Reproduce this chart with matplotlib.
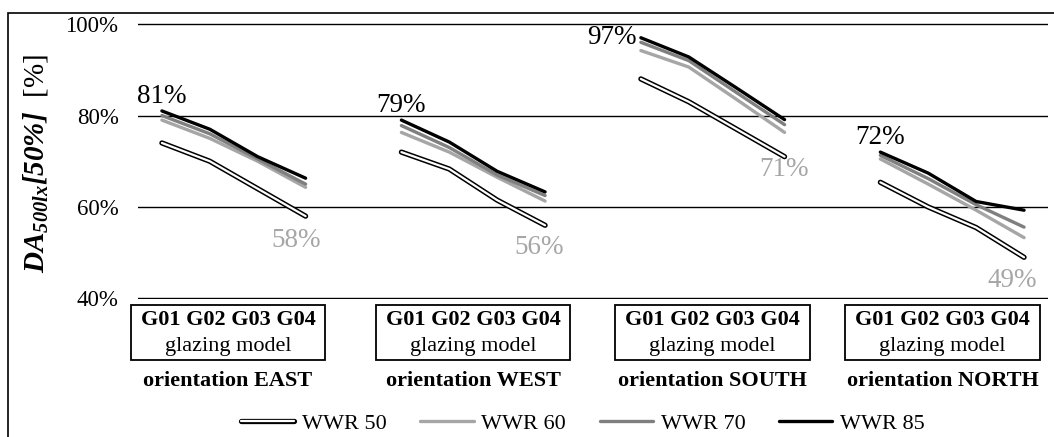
import matplotlib
matplotlib.use("Agg")
import matplotlib.pyplot as plt
import matplotlib.patheffects as pe
from matplotlib.patches import Rectangle
from matplotlib.transforms import blended_transform_factory

# --- data ---
orientations = ["EAST", "WEST", "SOUTH", "NORTH"]
glazing = ["G01", "G02", "G03", "G04"]
series = ["WWR 50", "WWR 60", "WWR 70", "WWR 85"]

wwr50 = [74, 70, 64, 58,   72, 68.3, 61.5, 56,   88, 83, 77, 71,   65.4, 60, 55.5, 49]
wwr60 = [79, 75, 70, 64.3, 76.3, 72, 66.5, 61.3, 94.2, 90.6, 83.5, 76.3, 70.5, 65, 59.3, 53.3]
wwr70 = [80, 76, 70.5, 65, 77.8, 73, 67, 62.5,  96, 92, 85, 78,   71.3, 66.2, 60.5, 55.6]
wwr85 = [81, 77, 71, 66.3, 79, 74.2, 67.8, 63.3, 97, 92.8, 86, 79.1, 72, 67.4, 61.2, 59.3]

max_labels = ["81%", "79%", "97%", "72%"]
min_labels = ["58%", "56%", "71%", "49%"]
yticks = [40, 60, 80, 100]
ytick_labels = ["40%", "60%", "80%", "100%"]

plt.rcParams["font.family"] = ["Liberation Serif", "DejaVu Serif"]
plt.rcParams["mathtext.fontset"] = "custom"
plt.rcParams["mathtext.bf"] = "Liberation Serif:italic:bold"
plt.rcParams["mathtext.rm"] = "Liberation Serif"
plt.rcParams["mathtext.it"] = "Liberation Serif:italic"

fig = plt.figure(figsize=(10.54, 4.37), dpi=100)
ax = fig.add_axes([0.1309, 0.3149, 0.8634, 0.6322])

light = "#a6a6a6"
mid = "#7f7f7f"

styles = {
    "WWR 50": dict(color="white", lw=1.6,
                   path_effects=[pe.Stroke(linewidth=3.8, foreground="black"), pe.Normal()]),
    "WWR 60": dict(color=light, lw=2.4),
    "WWR 70": dict(color=mid, lw=2.4),
    "WWR 85": dict(color="black", lw=2.4),
}
values = {"WWR 50": wwr50, "WWR 60": wwr60, "WWR 70": wwr70, "WWR 85": wwr85}

# each orientation takes 4 slots plus one empty slot
for name in series:
    vals = values[name]
    for g in range(len(orientations)):
        xs = [g * 5 + i for i in range(len(glazing))]
        ys = vals[g * 4:(g + 1) * 4]
        ax.plot(xs, ys, solid_capstyle="round", solid_joinstyle="round",
                label=name if g == 0 else None, zorder=3, **styles[name])

# value labels
for g in range(len(orientations)):
    x0 = g * 5
    x3 = g * 5 + 3
    top = wwr85[g * 4]
    low = wwr50[g * 4 + 3]
    if g == 2:
        ax.annotate(max_labels[g], (x0, top), xytext=(-4, 0), textcoords="offset pixels",
                    ha="right", va="center", fontsize=19.5, color="black")
    else:
        ax.annotate(max_labels[g], (x0, top), xytext=(0, 2), textcoords="offset pixels",
                    ha="center", va="bottom", fontsize=19.5, color="black")
    shift = [-9, -6, -1, -12][g]
    drop = [-12, -10, 0, -11][g]
    ax.annotate(min_labels[g], (x3, low), xytext=(shift, drop), textcoords="offset pixels",
                ha="center", va="top", fontsize=19.5, color=light)

ax.set_xlim(-0.5, 18.5)
ax.set_ylim(39.8, 100.2)
ax.set_yticks(yticks)
ax.set_yticklabels(ytick_labels, fontsize=16.5)
ax.set_xticks([])
ax.tick_params(axis="y", length=0, pad=14)
ax.yaxis.grid(True, color="black", lw=1.0)
ax.set_axisbelow(True)
for s in ax.spines.values():
    s.set_visible(False)

# glazing boxes and orientation names under each group
trans = blended_transform_factory(ax.transData, fig.transFigure)
box_shift = [-0.12, 0.0, 0.0, -0.2]
for g, name in enumerate(orientations):
    c = g * 5 + 1.5 + box_shift[g]
    ax.add_patch(Rectangle((c - 2.03, 0.176), 4.06, 0.126, transform=trans,
                           fill=False, ec="black", lw=1.3, clip_on=False))
    ax.text(c, 0.268, " ".join(glazing), transform=trans, ha="center", va="center",
            fontsize=16, fontweight="bold")
    ax.text(c, 0.208, "glazing model", transform=trans, ha="center", va="center",
            fontsize=16)
    ax.text(c, 0.128, "orientation " + name, transform=trans, ha="center", va="center",
            fontsize=16, fontweight="bold")

fig.text(0.034, 0.625, r"$\mathbf{DA_{500lx}[50\%]}$  [%]", rotation=90,
         ha="center", va="center", fontsize=21)

fig.legend(loc="center", bbox_to_anchor=(0.553, 0.03), ncol=4, frameon=False,
           fontsize=16, handlelength=2.4, handletextpad=0.35, columnspacing=1.5,
           borderpad=0.1)

# outer frame
fig.patches.append(Rectangle((8 / 1054, -0.05), 1.1, 0.971 + 0.05, transform=fig.transFigure,
                             fill=False, ec="black", lw=1.2))

fig.savefig("out.png", dpi=100)
